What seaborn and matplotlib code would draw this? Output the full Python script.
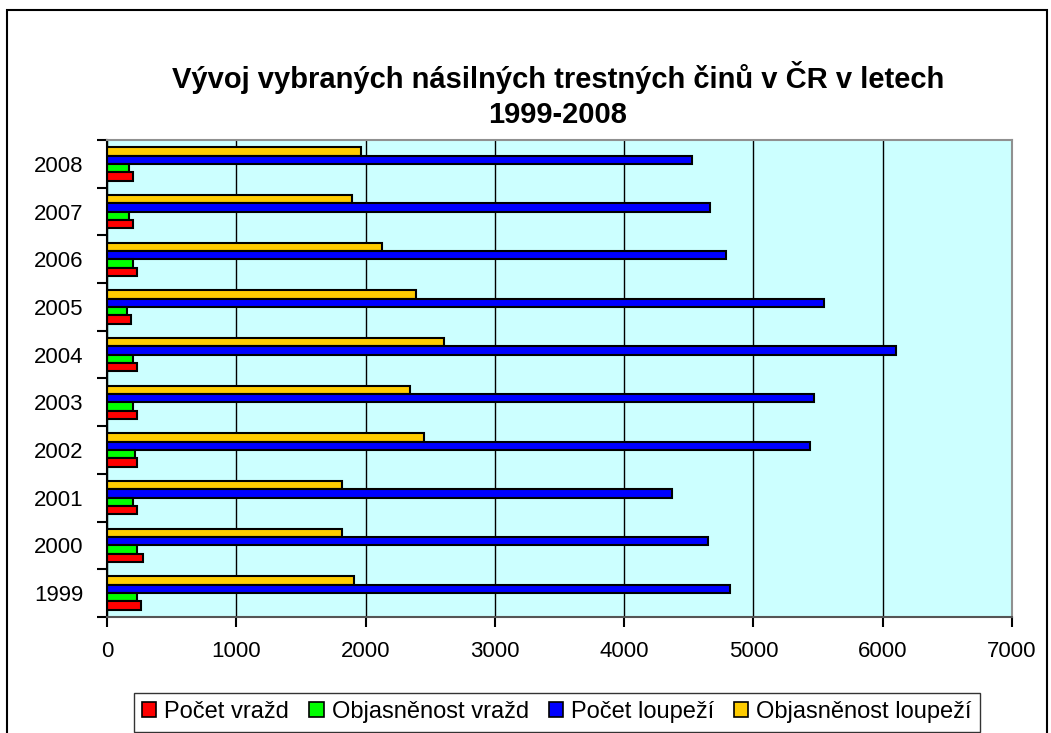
import pandas as pd
import matplotlib.pyplot as plt
import seaborn as sns
from matplotlib.patches import Rectangle, Patch

# data
roky = ["1999", "2000", "2001", "2002", "2003", "2004", "2005", "2006", "2007", "2008"]
pocet_vrazd = [265, 280, 235, 235, 235, 235, 186, 235, 204, 204]
objasnenost_vrazd = [232, 232, 199, 217, 199, 199, 152, 199, 170, 170]
pocet_loupezi = [4822, 4652, 4370, 5441, 5470, 6104, 5547, 4791, 4667, 4528]
objasnenost_loupezi = [1909, 1814, 1814, 2451, 2340, 2606, 2392, 2126, 1894, 1968]

serie = ["Počet vražd", "Objasněnost vražd", "Počet loupeží", "Objasněnost loupeží"]
barvy = ["#FF0000", "#00FF00", "#0000FF", "#FFCC00"]

df = pd.DataFrame({
    "rok": roky,
    serie[0]: pocet_vrazd,
    serie[1]: objasnenost_vrazd,
    serie[2]: pocet_loupezi,
    serie[3]: objasnenost_loupezi,
})
df = df.melt(id_vars=["rok"], var_name="serie", value_name="hodnota")

plt.rcParams["font.family"] = ["Liberation Sans", "DejaVu Sans"]

fig = plt.figure(figsize=(10.51, 7.33), dpi=100)
ax = fig.add_axes([107 / 1051, 1 - 617 / 733, (1012 - 107) / 1051, (617 - 140) / 733])
ax.set_facecolor("#CCFFFF")

# in horizontal bars the first hue level sits on top, so reverse it
sns.barplot(
    data=df, x="hodnota", y="rok", hue="serie",
    order=roky[::-1], hue_order=serie[::-1],
    palette=dict(zip(serie, barvy)), orient="h",
    width=0.7, saturation=1, errorbar=None,
    edgecolor="black", linewidth=1.5, ax=ax,
)
ax.get_legend().remove()

ax.set_xlim(0, 7000)
ax.set_xticks(range(0, 7001, 1000))
ax.set_ylim(9.5, -0.5)
ax.set_xlabel("")
ax.set_ylabel("")
ax.xaxis.grid(True, color="black", linewidth=1)
ax.set_axisbelow(True)

ax.set_yticks([i - 0.5 for i in range(11)], minor=True)
ax.tick_params(axis="y", which="major", length=0, pad=17, labelsize=16)
ax.tick_params(axis="y", which="minor", length=7, width=1.5, direction="out")
ax.tick_params(axis="x", length=7, width=1.5, direction="out", pad=10, labelsize=16)

for s in ["top", "right"]:
    ax.spines[s].set_color("#909090")
    ax.spines[s].set_linewidth(1.5)
ax.spines["left"].set_color("black")
ax.spines["left"].set_linewidth(1.5)
ax.spines["bottom"].set_color("#555555")
ax.spines["bottom"].set_linewidth(1.5)

fig.text(558 / 1051, 1 - 95 / 733,
         "Vývoj vybraných násilných trestných činů v ČR v letech\n1999-2008",
         ha="center", va="center", fontsize=21, fontweight="bold", linespacing=1.3)

handles = [Patch(facecolor=c, edgecolor="black", linewidth=1.2) for c in barvy]
leg = fig.legend(handles, serie, loc="upper center", bbox_to_anchor=(557 / 1051, 1 - 693 / 733),
                 borderaxespad=0, ncol=4, fontsize=17, frameon=True, fancybox=False,
                 handlelength=0.6, handleheight=0.6, handletextpad=0.34,
                 columnspacing=0.85, borderpad=0.35)
leg.get_frame().set_edgecolor("black")
leg.get_frame().set_linewidth(1)

fig.add_artist(Rectangle((7 / 1051, -0.1), (1047 - 7) / 1051, 1.1 - 10 / 733,
                         transform=fig.transFigure, fill=False, edgecolor="black",
                         linewidth=1.5, clip_on=False))

fig.savefig("out.png", dpi=100)
